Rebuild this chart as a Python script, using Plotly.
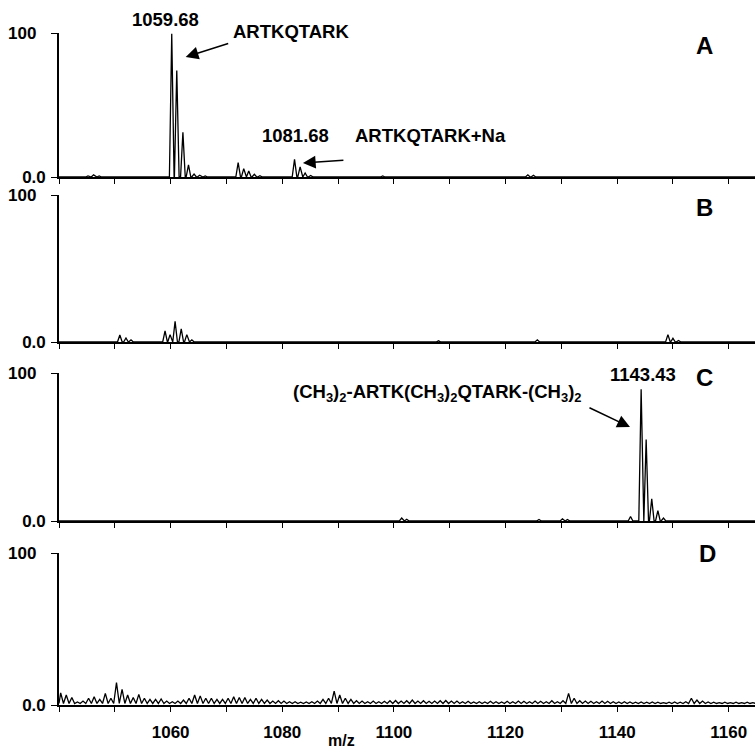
import plotly.graph_objects as go

# ---------------- data ----------------
X_RANGE = [1040, 1164.7]
x_tick_vals = [1040, 1050, 1060, 1070, 1080, 1090, 1100, 1110, 1120, 1130, 1140, 1150, 1160]
x_tick_text = ["", "", "1060", "", "1080", "", "1100", "", "1120", "", "1140", "", "1160"]
y_tick_vals = [0, 100]
y_tick_text = ["0.0", "100\u00a0\u00a0"]

# Panel A: ARTKQTARK
a_mz = [1045.2, 1046.2, 1047.2, 1060.2, 1061.1, 1062.2, 1063.2, 1064.2, 1065.2, 1066.2,
        1072.1, 1073.1, 1074.0, 1075.0, 1076.0, 1082.2, 1083.2, 1084.1, 1085.1,
        1098.0, 1124.0, 1125.0]
a_int = [0.8, 1.5, 0.8, 99.5, 74.0, 31.0, 8.5, 2.0, 1.2, 0.8,
         10.0, 5.8, 4.2, 1.9, 0.9, 12.3, 7.0, 2.8, 1.0,
         0.8, 1.5, 1.2]

# Panel B
b_mz = [1050.9, 1052.0, 1052.9, 1059.0, 1059.9, 1060.8, 1061.9, 1062.9, 1063.8,
        1108.0, 1125.7, 1149.1, 1150.0, 1151.0]
b_int = [4.8, 2.7, 1.5, 7.5, 5.0, 14.0, 9.0, 5.0, 1.5,
         0.8, 1.5, 5.0, 2.5, 1.0]

# Panel C: (CH3)2-ARTK(CH3)2QTARK-(CH3)2
c_mz = [1101.4, 1102.3, 1126.0, 1130.2, 1131.1, 1142.4, 1144.3, 1145.2, 1146.2, 1147.3, 1148.3]
c_int = [2.0, 1.2, 1.0, 1.5, 1.0, 3.0, 89.0, 55.0, 15.0, 7.0, 2.0]

# Panel D: noisy spectrum, one local maximum per m/z unit starting at 1040.3
d_start = 1040.3
d_int = [8.0, 6.6, 5.0, 2.0, 2.6, 4.4, 5.5, 3.7, 7.7, 4.4,
         14.7, 10.3, 6.6, 5.0, 7.0, 4.4, 3.7, 3.7, 4.0, 2.6,
         2.2, 2.6, 3.3, 4.4, 6.6, 6.0, 4.4, 4.4, 3.7, 3.7,
         4.4, 5.5, 5.0, 5.0, 3.7, 4.4, 3.7, 3.3, 2.6, 2.8,
         2.6, 2.2, 2.2, 1.8, 2.0, 2.2, 2.6, 3.7, 4.4, 9.2,
         6.6, 4.4, 3.7, 2.8, 2.6, 2.2, 2.6, 2.2, 2.4, 2.8,
         3.0, 2.6, 2.8, 3.3, 2.6, 2.8, 2.4, 2.6, 2.8, 3.0,
         2.6, 2.6, 2.2, 2.4, 2.0, 2.2, 2.0, 2.4, 2.2, 2.0,
         2.4, 2.2, 2.6, 2.4, 2.2, 2.6, 2.4, 2.2, 2.8, 2.2,
         2.8, 7.7, 4.4, 2.8, 2.6, 2.4, 2.2, 2.6, 2.4, 2.2,
         2.0, 2.2, 2.0, 1.8, 2.0, 1.8, 2.0, 1.8, 1.6, 1.8,
         2.0, 1.8, 2.2, 4.4, 3.3, 2.6, 2.0, 1.8, 1.6, 1.8,
         1.6, 1.8, 1.6, 1.8, 1.6]
d_floor = 1.0

# ---------------- build profiles ----------------
HW = 0.42


def stick_profile(mz, inten):
    xs, ys = [X_RANGE[0]], [0.0]
    for m, h in sorted(zip(mz, inten)):
        xs += [m - HW, m, m + HW]
        ys += [0.0, h, 0.0]
    xs.append(X_RANGE[1])
    ys.append(0.0)
    return xs, ys


def noise_profile(start, inten, floor):
    xs, ys = [X_RANGE[0]], [floor]
    for i, h in enumerate(inten):
        m = start + i
        xs += [m, m + 0.5]
        ys += [h, floor]
    xs.append(X_RANGE[1])
    ys.append(floor)
    return xs, ys


profiles = [stick_profile(a_mz, a_int), stick_profile(b_mz, b_int),
            stick_profile(c_mz, c_int), noise_profile(d_start, d_int, d_floor)]

W, H = 755.0, 749.0
L = 59.0
panel_px = [(33, 177), (195, 342), (373, 521), (553, 705)]
domains = [[1 - b / H, 1 - t / H] for t, b in panel_px]

FONT = "Liberation Sans, Arial, sans-serif"

fig = go.Figure()
for i, (xs, ys) in enumerate(profiles):
    n = "" if i == 0 else str(i + 1)
    fig.add_trace(go.Scatter(x=xs, y=ys, mode="lines",
                             line=dict(color="black", width=1.3),
                             xaxis="x" + n, yaxis="y" + n, showlegend=False,
                             hoverinfo="skip"))
    fig.layout["xaxis" + n] = dict(
        domain=[0, 1], range=X_RANGE, anchor="y" + n, showline=True,
        linecolor="black", linewidth=1.8, ticks="outside", ticklen=5,
        tickwidth=1, tickcolor="black", tickvals=x_tick_vals, ticktext=x_tick_text,
        showticklabels=(i == 3), showgrid=False, zeroline=False, automargin=False,
        tickfont=dict(family=FONT, size=17, color="black", weight="bold"),
        ticklabelstandoff=6,
    )
    fig.layout["yaxis" + n] = dict(
        domain=domains[i], range=[0, 100], anchor="x" + n, showline=True,
        linecolor="black", linewidth=1.6, ticks="outside", ticklen=6,
        tickwidth=1, tickcolor="black", tickvals=y_tick_vals, ticktext=y_tick_text,
        showgrid=False, zeroline=False, automargin=False,
        tickfont=dict(family=FONT, size=17, color="black", weight="bold"),
        ticklabelstandoff=2,
    )


def px_x(px):
    return (px - L) / (W - L)


def px_y(py):
    return 1 - py / H


def txt(text, x, y, xref, yref, size=18):
    return dict(text=text, x=x, y=y, xref=xref, yref=yref, showarrow=False,
                xanchor="center", yanchor="middle",
                font=dict(family=FONT, size=size, color="black", weight="bold"))


def arrow(x, y, ax, ay, xref, yref):
    return dict(text="", x=x, y=y, ax=ax, ay=ay, xref=xref, yref=yref,
                showarrow=True, arrowhead=2, arrowsize=1.7, arrowwidth=1.5,
                arrowcolor="black")


annotations = [
    txt("1059.68", px_x(165), px_y(20), "paper", "paper", 18.5),
    txt("ARTKQTARK", px_x(291), px_y(31), "paper", "paper", 18.5),
    arrow(1062.7, 83.3, 44, -14, "x", "y"),
    txt("1081.68", 1082.3, 28.5, "x", "y", 18.5),
    txt("ARTKQTARK+Na", 1106.5, 28.5, "x", "y", 18.5),
    arrow(1083.7, 9.7, 42, -3, "x", "y"),
    txt("A", 1155.7, 91, "x", "y", 24),
    txt("B", 1155.7, 91.8, "x2", "y2", 24),
    txt("1143.43", 1144.6, 99.3, "x3", "y3", 18.5),
    txt("(CH<sub>3</sub>)<sub>2</sub>-ARTK(CH<sub>3</sub>)<sub>2</sub>QTARK-(CH<sub>3</sub>)<sub>2</sub>",
        1107.8, 86.5, "x3", "y3", 18.5),
    arrow(1142.3, 63.5, -42, -20, "x3", "y3"),
    txt("C", 1155.7, 97.3, "x3", "y3", 24),
    txt("D", 1156.2, 100, "x4", "y4", 24),
    txt("m/z", px_x(341), px_y(740), "paper", "paper", 16),
]

fig.update_layout(
    width=755, height=749,
    margin=dict(l=L, r=0, t=0, b=0, autoexpand=False),
    paper_bgcolor="white", plot_bgcolor="white",
    annotations=annotations,
    showlegend=False,
)

fig.write_html("out.html")
